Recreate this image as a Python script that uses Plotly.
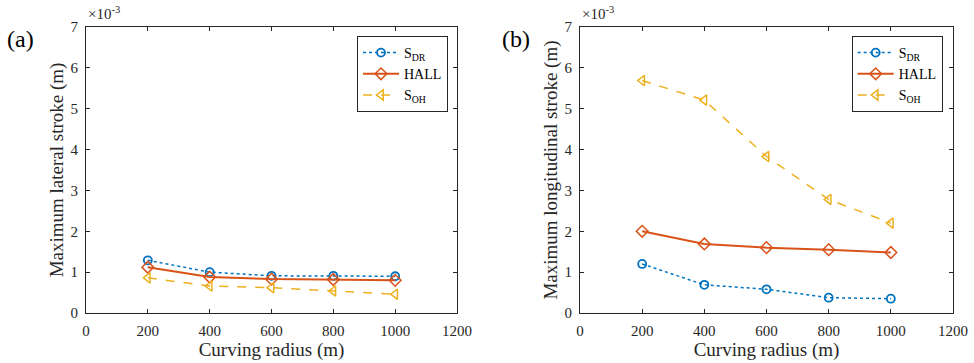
import plotly.graph_objects as go

# Curving radius (m)
radius = [200, 400, 600, 800, 1000]

# Maximum lateral stroke (m)
lat_sdr = [1.29e-3, 1.00e-3, 0.91e-3, 0.91e-3, 0.90e-3]
lat_hall = [1.12e-3, 0.88e-3, 0.83e-3, 0.82e-3, 0.80e-3]
lat_soh = [0.86e-3, 0.66e-3, 0.62e-3, 0.54e-3, 0.46e-3]

# Maximum longitudinal stroke (m)
lon_sdr = [1.20e-3, 0.69e-3, 0.58e-3, 0.375e-3, 0.35e-3]
lon_hall = [2.00e-3, 1.69e-3, 1.60e-3, 1.55e-3, 1.48e-3]
lon_soh = [5.69e-3, 5.21e-3, 3.83e-3, 2.78e-3, 2.20e-3]

x_ticks = [0, 200, 400, 600, 800, 1000, 1200]
y_ticks = [i * 1e-3 for i in range(8)]
y_ticklabels = [str(i) for i in range(8)]

FONT = "Liberation Serif, Times New Roman, DejaVu Serif, serif"
INK = "#262626"
BLUE = "#0072BD"
ORANGE = "#D95319"
YELLOW = "#EDB120"

fig = go.Figure()

def add_series(xa, ya, legend, sdr, hall, soh):
    fig.add_trace(go.Scatter(
        x=radius, y=sdr, name="S<sub>DR</sub>", mode="lines+markers",
        line=dict(color=BLUE, width=1.5, dash="dot"),
        marker=dict(symbol="circle-open", size=8, color=BLUE, line=dict(width=1.8)),
        xaxis=xa, yaxis=ya, legend=legend))
    fig.add_trace(go.Scatter(
        x=radius, y=hall, name="HALL", mode="lines+markers",
        line=dict(color=ORANGE, width=2),
        marker=dict(symbol="diamond-open", size=9, color=ORANGE, line=dict(width=1.5)),
        xaxis=xa, yaxis=ya, legend=legend))
    fig.add_trace(go.Scatter(
        x=radius, y=soh, name="S<sub>OH</sub>", mode="lines+markers",
        line=dict(color=YELLOW, width=1.5, dash="dash"),
        marker=dict(symbol="triangle-left-open", size=9, color=YELLOW, line=dict(width=1.5)),
        xaxis=xa, yaxis=ya, legend=legend))

add_series("x", "y", "legend", lat_sdr, lat_hall, lat_soh)
add_series("x2", "y2", "legend2", lon_sdr, lon_hall, lon_soh)

W, H = 974, 363
top_px, bot_px = 27, 313
ydom = [(H - bot_px) / H, (H - top_px) / H]
xdom1 = [86 / W, 457 / W]
xdom2 = [580 / W, 953 / W]

axis_common = dict(
    showline=True, linecolor=INK, linewidth=1, mirror="ticks",
    ticks="inside", ticklen=4, tickcolor=INK, showgrid=False, zeroline=False,
    automargin=False,
    tickfont=dict(family=FONT, size=15, color=INK),
)

xcommon = dict(axis_common, range=[0, 1200], tickvals=x_ticks, ticklabelstandoff=4,
               title=dict(text="Curving radius (m)", font=dict(family=FONT, size=19, color=INK), standoff=4))
ycommon = dict(axis_common, range=[0, 7e-3], tickvals=y_ticks, ticktext=y_ticklabels, ticklabelstandoff=4)

legend_common = dict(
    bgcolor="white", bordercolor=INK, borderwidth=1,
    font=dict(family=FONT, size=14, color="black"),
    xanchor="right", yanchor="top", tracegroupgap=0, itemwidth=36,
)

fig.update_layout(
    width=W, height=H,
    margin=dict(l=0, r=0, t=0, b=0, autoexpand=False),
    paper_bgcolor="white", plot_bgcolor="white",
    font=dict(family=FONT),
    xaxis=dict(xcommon, domain=xdom1, anchor="y"),
    yaxis=dict(ycommon, domain=ydom, anchor="x",
               title=dict(text="Maximum lateral stroke (m)", font=dict(family=FONT, size=19, color=INK), standoff=1)),
    xaxis2=dict(xcommon, domain=xdom2, anchor="y2"),
    yaxis2=dict(ycommon, domain=ydom, anchor="x2",
                title=dict(text="Maximum longitudinal stroke (m)", font=dict(family=FONT, size=19, color=INK), standoff=1)),
    legend=dict(legend_common, x=448 / W, y=(H - 36) / H),
    legend2=dict(legend_common, x=(490 + 1358 / 3) / W, y=(H - 36) / H),
    annotations=[
        dict(text="(a)", x=5 / W, y=(H - 39) / H, xref="paper", yref="paper",
             xanchor="left", yanchor="middle", showarrow=False,
             font=dict(family=FONT, size=24, color="black")),
        dict(text="(b)", x=500 / W, y=(H - 39) / H, xref="paper", yref="paper",
             xanchor="left", yanchor="middle", showarrow=False,
             font=dict(family=FONT, size=24, color="black")),
        dict(text="×10<sup>-3</sup>", x=86 / W, y=(H - 24) / H, xref="paper", yref="paper",
             xanchor="left", yanchor="bottom", showarrow=False,
             font=dict(family=FONT, size=15, color=INK)),
        dict(text="×10<sup>-3</sup>", x=580 / W, y=(H - 24) / H, xref="paper", yref="paper",
             xanchor="left", yanchor="bottom", showarrow=False,
             font=dict(family=FONT, size=15, color=INK)),
    ],
)

fig.write_html("out.html")
